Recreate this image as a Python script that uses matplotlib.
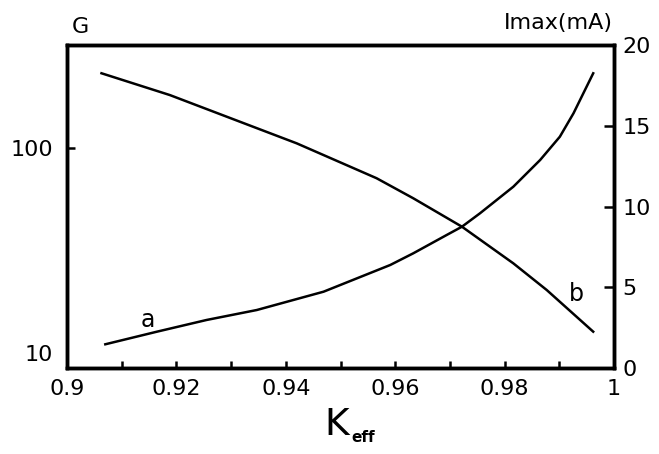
import matplotlib
matplotlib.use('Agg')
import matplotlib.pyplot as plt
from matplotlib.ticker import FixedLocator, NullLocator

# curve a : gain G (left, log scale)
keff_a = [0.9070, 0.9164, 0.9255, 0.9347, 0.9469, 0.9591, 0.9633, 0.9694,
          0.9722, 0.9755, 0.9816, 0.9865, 0.9901, 0.9926, 0.9944, 0.9962]
gain_a = [11.03, 12.70, 14.49, 16.21, 19.91, 26.88, 30.64, 37.63,
          41.31, 48.03, 64.75, 87.4, 113.5, 147.7, 184.9, 231.4]

# curve b : Imax in mA (right, linear)
keff_b = [0.9063, 0.9188, 0.9316, 0.9420, 0.9566, 0.9633, 0.9722,
          0.9816, 0.9877, 0.9962]
imax_b = [18.25, 16.90, 15.25, 13.91, 11.75, 10.51, 8.75,
          6.48, 4.83, 2.25]

x_ticks = [0.9, 0.92, 0.94, 0.96, 0.98, 1.0]
x_tick_labels = ['0.9', '0.92', '0.94', '0.96', '0.98', '1']
x_minor = [0.91, 0.93, 0.95, 0.97, 0.99]
left_ticks = [10, 100]
left_tick_labels = ['10', '100']
right_ticks = [0, 5, 10, 15, 20]

plt.rcParams['font.family'] = ['DejaVu Sans']

fig = plt.figure(figsize=(6.59, 4.54), dpi=100)
ax = fig.add_axes([0.1017, 0.1894, 0.83, 0.7115])
ax2 = ax.twinx()

lw_spine = 2.5
lw_line = 1.8

ax.plot(keff_a, gain_a, color='black', linewidth=lw_line)
ax.set_yscale('log')
ax.set_ylim(8.45, 318)
ax.set_xlim(0.9, 1.0)
ax.yaxis.set_major_locator(FixedLocator(left_ticks))
ax.set_yticklabels(left_tick_labels)
ax.yaxis.set_minor_locator(NullLocator())
ax.xaxis.set_major_locator(FixedLocator(x_ticks))
ax.set_xticklabels(x_tick_labels)
ax.xaxis.set_minor_locator(FixedLocator(x_minor))

ax2.plot(keff_b, imax_b, color='black', linewidth=lw_line)
ax2.set_ylim(0, 20)
ax2.yaxis.set_major_locator(FixedLocator(right_ticks))

for a in (ax, ax2):
    for sp in a.spines.values():
        sp.set_linewidth(lw_spine)
ax.tick_params(axis='x', which='both', direction='in', length=5, width=1.8,
               labelsize=16, pad=8, top=False)
ax.tick_params(axis='y', direction='in', length=6, width=1.8,
               labelsize=16, pad=10)
ax2.tick_params(axis='y', direction='in', length=7, width=1.8,
                labelsize=16, pad=6)
# no tick mark drawn at G = 10 in the original
ax.yaxis.get_major_ticks()[0].tick1line.set_visible(False)

ax.text(0.9148, 14.5, 'a', fontsize=17, ha='center', va='center')
ax2.text(0.9932, 4.6, 'b', fontsize=17, ha='center', va='center')

fig.text(80 / 659, 1 - 27 / 454, 'G', fontsize=16, ha='center', va='center')
fig.text(613 / 659, 1 - 23 / 454, 'Imax(mA)', fontsize=16, ha='right', va='center')
fig.text(337 / 659, 1 - 425 / 454, 'K', fontsize=27, ha='center', va='center')
fig.text(351 / 659, 1 - 442 / 454, 'eff', fontsize=11, fontweight='bold',
         ha='left', va='baseline')

fig.savefig('out.png', dpi=100)
